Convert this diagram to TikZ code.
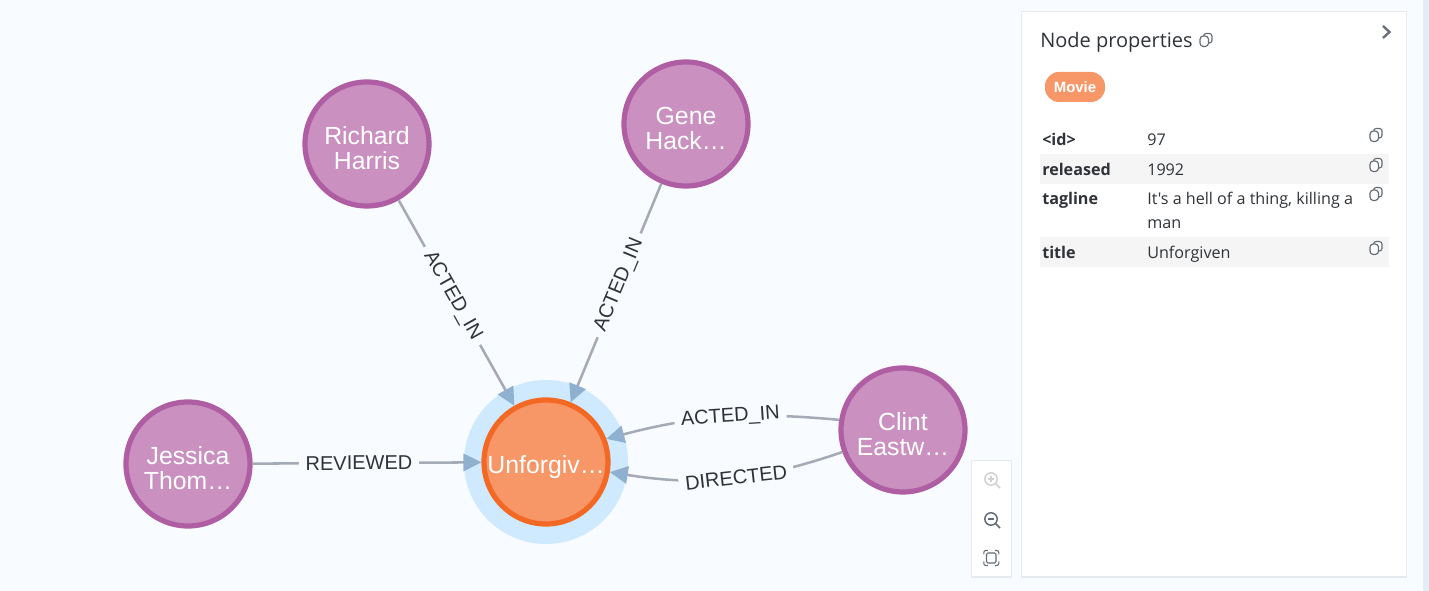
\documentclass[tikz,border=0pt]{standalone}
\usepackage{fontspec}
\setmainfont{Liberation Sans}
\newfontfamily\panelfont{Open Sans}
\usetikzlibrary{arrows.meta,shapes.geometric}
\definecolor{canvasbg}{HTML}{F8FBFF}
\definecolor{stripbg}{HTML}{E3EDF5}
\definecolor{paneledge}{HTML}{E6EBF0}
\definecolor{rowbg}{HTML}{F5F5F5}
\definecolor{personfill}{HTML}{C990C0}
\definecolor{personedge}{HTML}{B05EA3}
\definecolor{moviefill}{HTML}{F79767}
\definecolor{movieedge}{HTML}{F36924}
\definecolor{glow}{HTML}{CFEAFF}
\definecolor{relline}{HTML}{A5ABB6}
\definecolor{relhead}{HTML}{8FB0CE}
\definecolor{inktext}{HTML}{2F3338}
\definecolor{iconink}{HTML}{636B75}
\tikzset{
	x=0.75pt, y=0.75pt,
	graphnode/.style={circle, minimum size=124*0.75pt, inner sep=0pt, line width=3.9pt, text=white, align=center,
		font=\fontsize{18.6}{18.8}\selectfont, text depth=0pt},
	person/.style={graphnode, draw=personedge, fill=personfill, text height=39pt},
	movie/.style={graphnode, draw=movieedge, fill=moviefill, text height=18pt},
	rel/.style={draw=relline, line width=1.9pt, -{Triangle[length=13.5pt,width=13pt,color=relhead]}},
	rellabel/.style={fill=canvasbg, sloped, pos=0.465, inner xsep=5pt, inner ysep=2pt, text=inktext,
		font=\fontsize{15}{17}\selectfont},
	keytext/.style={anchor=base west, inner sep=0pt, text=inktext, font=\panelfont\fontsize{12.1}{14}\selectfont\bfseries},
	valtext/.style={anchor=base west, inner sep=0pt, text=inktext, font=\panelfont\fontsize{12.1}{14}\selectfont},
	copyicon/.pic={
		\draw[iconink, line width=0.85pt, rounded corners=2pt, fill=white] (-2.5,-3) rectangle (6,6.5);
		\draw[iconink, line width=0.85pt, rounded corners=2.5pt, fill=white] (-6,-6.5) rectangle (2.5,4);
	},
	lenspic/.pic={
		\draw[line width=1.1pt] (0,0) circle (6.2);
		\draw[line width=1.1pt] (4.5,-4.5) -- (9,-9);
	}
}

\begin{document}
\begin{tikzpicture}
	%%%%% BACKGROUND %%%%%
	\useasboundingbox (0,0) rectangle (1429,591);
	\fill[canvasbg] (0,0) rectangle (1429,591);
	\fill[stripbg] (1423,0) rectangle (1429,591);

	%%%%% GRAPH %%%%%
	\fill[glow] (546,129) circle (82);

	\node[person] (richard) at (367,447) {Richard\\Harris};
	\node[person] (gene) at (686,467) {Gene\\Hack…};
	\node[person] (jessica) at (188,127) {Jessica\\Thom…};
	\node[person] (clint) at (903,161) {Clint\\Eastw…};
	\node[movie] (unforgiven) at (546,129) {Unforgiv…};

	\draw[rel] (richard) -- node[rellabel] (richardlabel) {ACTED\_IN} (unforgiven);
	\draw[rel] (gene) -- node[rellabel] (genelabel) {ACTED\_IN} (unforgiven);
	\draw[rel] (jessica) -- node[rellabel] (jessicalabel) {REVIEWED} (unforgiven);
	\draw[rel] (clint.171) to[bend right=10] node[rellabel, pos=0.46] (clintlabela) {ACTED\_IN} (unforgiven.21);
	\draw[rel] (clint.200) to[bend left=14] node[rellabel, pos=0.46] (clintlabelb) {DIRECTED} (unforgiven.-9);

	%%%%% ZOOM BUTTONS %%%%%
	\fill[paneledge] (971,13) rectangle (1012,131);
	\fill[white] (972,15) rectangle (1011,130);
	\begin{scope}[shift={(991,112)}]
		\pic[draw=black!18] {lenspic};
		\draw[black!18, line width=1pt] (-3,0) -- (3,0) (0,-3) -- (0,3);
	\end{scope}
	\begin{scope}[shift={(991,72)}]
		\pic[draw=iconink] {lenspic};
		\draw[iconink, line width=1pt] (-3,0) -- (3,0);
	\end{scope}
	\draw[iconink, line width=0.8pt, rounded corners=1pt] (986.5,28) rectangle (996,38);
	\foreach \sx/\sy in {1/1,-1/1,1/-1,-1/-1}
		\draw[shift={(991.3,33)}, iconink, line width=0.8pt, rounded corners=1.5pt] (\sx*3.5,\sy*7.5) -- (\sx*7.5,\sy*7.5) -- (\sx*7.5,\sy*3.5);

	%%%%% PROPERTIES PANEL %%%%%
	\fill[paneledge] (1021,13) rectangle (1407,580);
	\fill[white] (1022,15) rectangle (1406,579);
	\node[anchor=base west, inner sep=0pt, text=inktext, font=\panelfont\fontsize{15}{18}\selectfont] (paneltitle) at (1040,543) {Node properties};
	\pic at (1206,551) {copyicon};
	\draw[iconink, line width=1.7pt] (1383,565) -- (1389.5,559) -- (1383,553);

	\node[rounded corners=10.5pt, fill=moviefill, text=white, minimum width=45pt, minimum height=22.5pt, inner sep=0pt,
		font=\fontsize{11.2}{12}\selectfont\bfseries] (movietag) at (1075,504) {Movie};

	\fill[rowbg] (1040,407) rectangle (1389,437);
	\fill[rowbg] (1040,324) rectangle (1389,354);

	\node[keytext] (idkey) at (1042,445) {<id>};
	\node[valtext] (idval) at (1147,445) {97};
	\node[keytext] (releasedkey) at (1042,415) {released};
	\node[valtext] (releasedval) at (1147,415) {1992};
	\node[keytext] (taglinekey) at (1042,386) {tagline};
	\node[valtext] (taglineval) at (1147,386) {It's a hell of a thing, killing a};
	\node[valtext] (taglinemore) at (1147,362) {man};
	\node[keytext] (titlekey) at (1042,332) {title};
	\node[valtext] (titleval) at (1147,332) {Unforgiven};

	\foreach \rowy in {456,426,397,343}
		\pic at (1376,\rowy) {copyicon};
\end{tikzpicture}
\end{document}
